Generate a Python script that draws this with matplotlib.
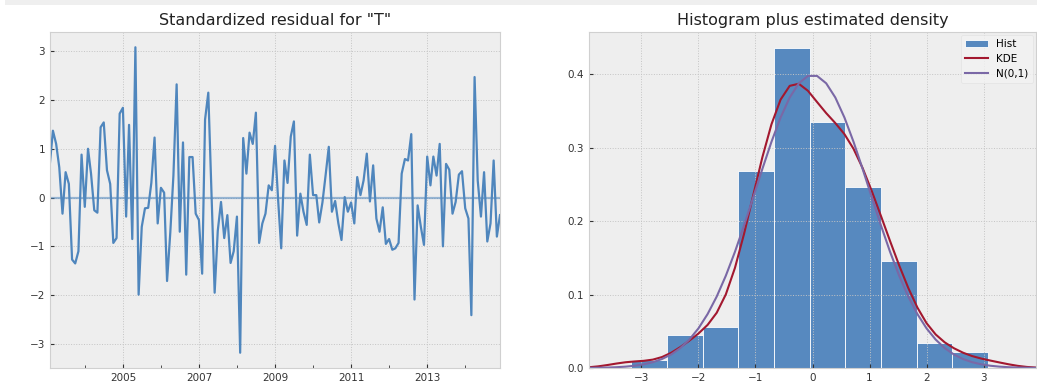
"""
Diagnostics plot: standardized residual series and histogram with density.
"""

import datetime as dt

import numpy as np
import matplotlib
matplotlib.use("Agg")
import matplotlib.pyplot as plt
import matplotlib.dates as mdates
from matplotlib.patches import Rectangle

# ---------------------------------------------------------------------------
# Data
# ---------------------------------------------------------------------------
start_year, start_month = 2003, 2   # first residual: Feb 2003, monthly

resid = [
    0.72, 1.37, 1.10, 0.62, -0.33, 0.52, 0.28, -1.27, -1.35, -1.10,
    0.88, -0.19, 1.00, 0.49, -0.26, -0.31, 1.44, 1.54, 0.56, 0.28,
    -0.93, -0.83, 1.72, 1.84, -0.39, 1.49, -0.85, 3.08, -1.99, -0.60,
    -0.22, -0.21, 0.30, 1.23, -0.53, 0.20, 0.10, -1.71, -0.72, 0.45,
    2.32, -0.70, 1.13, -1.58, 0.83, 0.83, -0.33, -0.46, -1.56, 1.60,
    2.15, 0.15, -1.95, -0.68, -0.09, -0.83, -0.36, -1.34, -1.10, -0.39,
    -3.18, 1.22, 0.49, 1.33, 1.10, 1.74, -0.93, -0.53, -0.33, 0.25,
    0.15, 1.06, -0.10, -1.04, 0.76, 0.30, 1.25, 1.56, -0.78, 0.08,
    -0.29, -0.56, 0.88, 0.05, 0.05, -0.51, -0.10, 0.45, 1.04, -0.29,
    -0.07, -0.53, -0.87, 0.01, -0.29, -0.10, -0.53, 0.42, 0.05, 0.35,
    0.90, -0.08, 0.66, -0.43, -0.70, -0.20, -0.95, -0.85, -1.07, -1.04,
    -0.93, 0.49, 0.79, 0.76, 1.30, -2.09, -0.16, -0.60, -0.97, 0.84,
    0.25, 0.84, 0.45, 1.10, -1.00, 0.69, 0.57, -0.33, -0.09, 0.47,
    0.54, -0.22, -0.43, -2.41, 2.47, 0.35, -0.39, 0.52, -0.90, -0.53,
    0.76, -0.80, -0.36,
]

major_years = [2005, 2007, 2009, 2011, 2013]
hist_bins = 10
kde_xlim = (-1.96 * 2, 1.96 * 2)

BLUE = "#4f86bd"
HIST_BLUE = "#5789bf"
RED = "#a3182f"
PURPLE = "#7a68a6"

# ---------------------------------------------------------------------------
# Derived series
# ---------------------------------------------------------------------------
resid = np.asarray(resid, dtype=float)
dates = []
y, m = start_year, start_month
for _ in range(len(resid)):
    dates.append(dt.datetime(y, m, 1))
    m += 1
    if m > 12:
        m, y = 1, y + 1


def gaussian_kde(data, grid):
    """Plain gaussian KDE with Scott's bandwidth (same as scipy default)."""
    n = len(data)
    bw = np.std(data, ddof=1) * n ** (-1.0 / 5)
    z = (grid[:, None] - data[None, :]) / bw
    return np.exp(-0.5 * z ** 2).sum(axis=1) / (n * bw * np.sqrt(2 * np.pi))


x_grid = np.linspace(kde_xlim[0], kde_xlim[1])
kde_vals = gaussian_kde(resid, x_grid)
norm_vals = np.exp(-0.5 * x_grid ** 2) / np.sqrt(2 * np.pi)

# ---------------------------------------------------------------------------
# Figure
# ---------------------------------------------------------------------------
plt.style.use("bmh")
plt.rcParams.update({
    "font.family": ["DejaVu Sans"],
    "xtick.direction": "in",
    "ytick.direction": "in",
    "xtick.labelsize": 7.5,
    "ytick.labelsize": 7.5,
    "axes.titlesize": 11.5,
    "axes.edgecolor": "#d0d0d0",
    "grid.color": "#c4c4c4",
    "grid.linestyle": ":",
    "grid.linewidth": 0.7,
})

fig = plt.figure(figsize=(10.37, 3.86), dpi=100)
fig.patch.set_facecolor("white")

# faint strip along the top edge
fig.add_artist(Rectangle((5 / 1037, 1 - 5 / 386), 1, 5 / 386,
                         transform=fig.transFigure, facecolor="#efefef",
                         edgecolor="none"))

ax1 = fig.add_axes([50 / 1037, 18 / 386, 450 / 1037, 336 / 386])
ax2 = fig.add_axes([589 / 1037, 18 / 386, 447 / 1037, 336 / 386])

# --- Left: standardized residuals ---
ax1.plot(dates, resid, color=BLUE, lw=1.6)
ax1.hlines(0, dates[0], dates[-1], color=BLUE, alpha=0.55, lw=1.6)
ax1.set_xlim(dates[0], dates[-1])
ax1.set_xticks([dt.datetime(yr, 1, 1) for yr in major_years])
ax1.xaxis.set_minor_locator(mdates.YearLocator(1))
ax1.xaxis.set_major_formatter(mdates.DateFormatter("%Y"))
ax1.grid(True, which="major")
ax1.set_title('Standardized residual for "T"', pad=5, color="#222222")

# --- Right: histogram + densities ---
ax2.hist(resid, bins=hist_bins, density=True, label="Hist",
         color=HIST_BLUE, edgecolor="#FFFFFF", linewidth=0.6)
ax2.plot(x_grid, kde_vals, label="KDE", color=RED, lw=1.5)
ax2.plot(x_grid, norm_vals, label="N(0,1)", color=PURPLE, lw=1.5)
ax2.set_xlim(kde_xlim)
ax2.set_xticks([-3, -2, -1, 0, 1, 2, 3])
leg = ax2.legend(loc="upper right", fontsize=7.5, borderaxespad=0.3,
                 handlelength=2.2, labelspacing=0.45)
leg.get_frame().set_edgecolor("#e0e0e0")
leg.get_frame().set_facecolor("#f2f2f2")
ax2.set_title("Histogram plus estimated density", pad=5, color="#222222")

for ax in (ax1, ax2):
    ax.tick_params(which="both", length=3, color="#333333", labelcolor="#333333")
    ax.tick_params(which="minor", length=2)

fig.savefig("out.png", dpi=100, facecolor="white")
